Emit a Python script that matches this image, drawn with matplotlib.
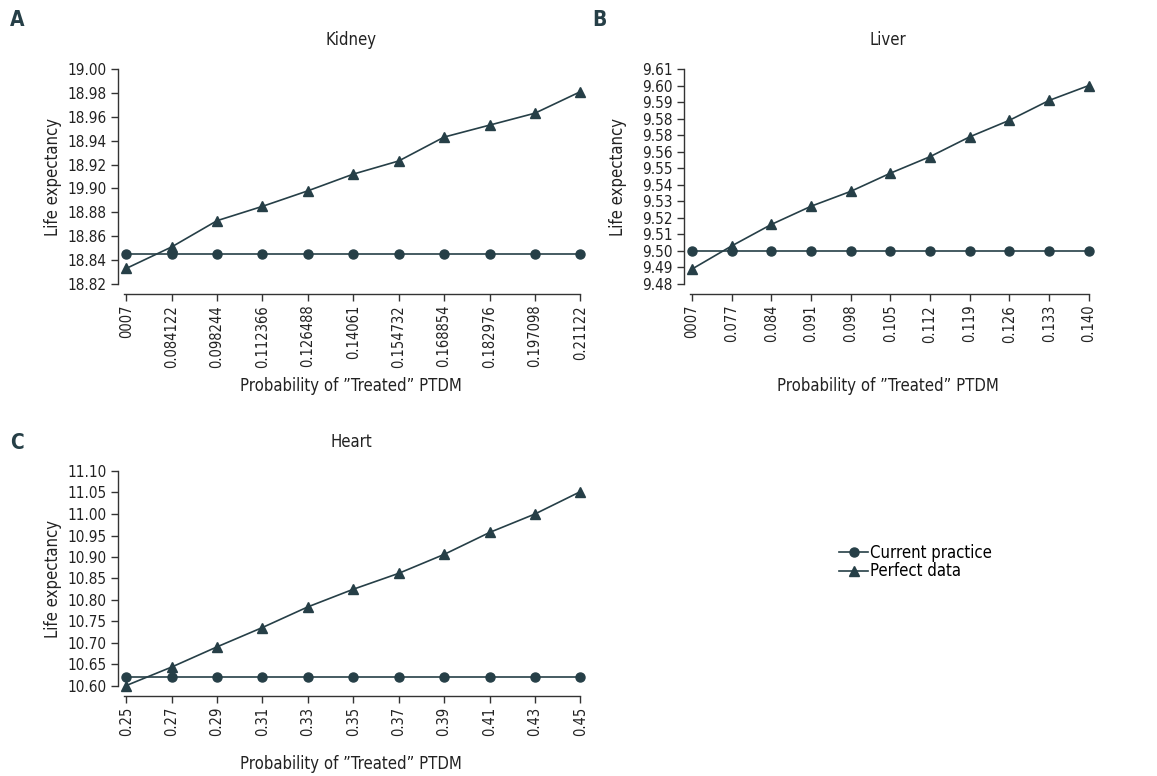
import matplotlib
matplotlib.use("Agg")
import matplotlib.pyplot as plt
import numpy as np

plt.rcParams["font.family"] = ["DejaVu Sans"]
plt.rcParams["font.stretch"] = "condensed"

COLOR = "#263f47"
TEXT = "#222222"
FIG_W, FIG_H = 1157, 776

# Kidney
kidney_x_labels = ["0007", "0.084122", "0.098244", "0.112366", "0.126488", "0.14061",
                   "0.154732", "0.168854", "0.182976", "0.197098", "0.21122"]
kidney_current = [18.845] * 11
kidney_perfect = [18.833, 18.851, 18.873, 18.885, 18.898, 18.912,
                  18.923, 18.943, 18.953, 18.963, 18.981]
kidney_y_ticks = [18.82, 18.84, 18.86, 18.88, 18.90, 18.92, 18.94, 18.96, 18.98, 19.00]
kidney_y_labels = ["18.82", "18.84", "18.86", "18.88", "19.90", "18.92",
                   "18.94", "18.96", "18.98", "19.00"]

# Liver
liver_x_labels = ["0007", "0.077", "0.084", "0.091", "0.098", "0.105",
                  "0.112", "0.119", "0.126", "0.133", "0.140"]
liver_current = [9.50] * 11
liver_perfect = [9.489, 9.503, 9.516, 9.527, 9.536, 9.547,
                 9.557, 9.569, 9.579, 9.591, 9.600]
liver_y_ticks = [9.48, 9.49, 9.50, 9.51, 9.52, 9.53, 9.54, 9.55,
                 9.56, 9.57, 9.58, 9.59, 9.60, 9.61]
liver_y_labels = ["9.48", "9.49", "9.50", "9.51", "9.52", "9.53", "9.54", "9.55",
                  "9.56", "9.58", "9.58", "9.59", "9.60", "9.61"]

# Heart
heart_x_labels = ["0.25", "0.27", "0.29", "0.31", "0.33", "0.35",
                  "0.37", "0.39", "0.41", "0.43", "0.45"]
heart_current = [10.62] * 11
heart_perfect = [10.601, 10.644, 10.691, 10.736, 10.784, 10.825,
                 10.862, 10.906, 10.957, 11.000, 11.052]
heart_y_ticks = [10.60, 10.65, 10.70, 10.75, 10.80, 10.85,
                 10.90, 10.95, 11.00, 11.05, 11.10]
heart_y_labels = ["10.60", "10.65", "10.70", "10.75", "10.80", "10.85",
                  "10.90", "10.95", "11.00", "11.05", "11.10"]

FS = 12
TICK_FS = 11


def px_axes(fig, left, top, right, bottom):
    return fig.add_axes([left / FIG_W, 1 - bottom / FIG_H,
                         (right - left) / FIG_W, (bottom - top) / FIG_H])


def draw_panel(ax, title, x_labels, current, perfect, y_ticks, y_labels,
               xpad, ylabel_x, xlabel_y):
    x = np.arange(len(x_labels))
    ax.plot(x, current, color=COLOR, lw=1.2, marker="o", ms=6.5,
            clip_on=False, zorder=3, label="Current practice")
    ax.plot(x, perfect, color=COLOR, lw=1.2, marker="^", ms=7,
            clip_on=False, zorder=3, label="Perfect data")

    # spine position first: it resets the ticks
    for side in ["top", "right"]:
        ax.spines[side].set_visible(False)
    ax.spines["bottom"].set_position(("outward", 7))
    ax.spines["bottom"].set_bounds(-0.05, len(x_labels) - 1)
    for side in ["left", "bottom"]:
        ax.spines[side].set_color("#333333")
        ax.spines[side].set_linewidth(1.0)

    ax.set_xlim(-xpad, len(x_labels) - 1 + 0.08)
    ax.set_ylim(y_ticks[0], y_ticks[-1])
    ax.set_xticks(x)
    ax.set_xticklabels(x_labels, rotation=90, fontsize=10.5)
    ax.set_yticks(y_ticks)
    ax.set_yticklabels(y_labels, fontsize=TICK_FS)
    ax.tick_params(direction="out", length=5, width=1.0, color="#333333",
                   pad=3, labelcolor=TEXT)

    ax.set_ylabel("Life expectancy", fontsize=FS, color=TEXT)
    ax.yaxis.set_label_coords(ylabel_x, 0.5)
    ax.set_xlabel("Probability of \u201dTreated\u201d PTDM", fontsize=FS, color=TEXT)
    ax.xaxis.set_label_coords(0.5, xlabel_y)
    ax.text(0.5, 1.135, title, transform=ax.transAxes, fontsize=FS,
            color=TEXT, ha="center", va="center")


fig = plt.figure(figsize=(FIG_W / 100, FIG_H / 100), dpi=100)

ax_a = px_axes(fig, 118, 69, 584, 284)
draw_panel(ax_a, "Kidney", kidney_x_labels, kidney_current, kidney_perfect,
           kidney_y_ticks, kidney_y_labels, 0.18, -56 / 466, -93 / 215)

ax_b = px_axes(fig, 684, 69, 1092, 284)
draw_panel(ax_b, "Liver", liver_x_labels, liver_current, liver_perfect,
           liver_y_ticks, liver_y_labels, 0.2, -57 / 408, -93 / 215)

ax_c = px_axes(fig, 118, 471, 584, 686)
draw_panel(ax_c, "Heart", heart_x_labels, heart_current, heart_perfect,
           heart_y_ticks, heart_y_labels, 0.18, -56 / 466, -69 / 215)

for letter, xp, yp in [("A", 10, 20), ("B", 592, 20), ("C", 10, 443)]:
    fig.text(xp / FIG_W, 1 - yp / FIG_H, letter, fontsize=15, fontweight="bold",
             color=COLOR, ha="left", va="center")

handles, labels = ax_c.get_legend_handles_labels()
fig.legend(handles, labels, loc="center left",
           bbox_to_anchor=(831 / FIG_W, 1 - 562 / FIG_H), frameon=False,
           fontsize=FS, handlelength=1.7, handletextpad=0.15,
           labelspacing=0.05, borderpad=0.0)

fig.savefig("out.png", dpi=100)
